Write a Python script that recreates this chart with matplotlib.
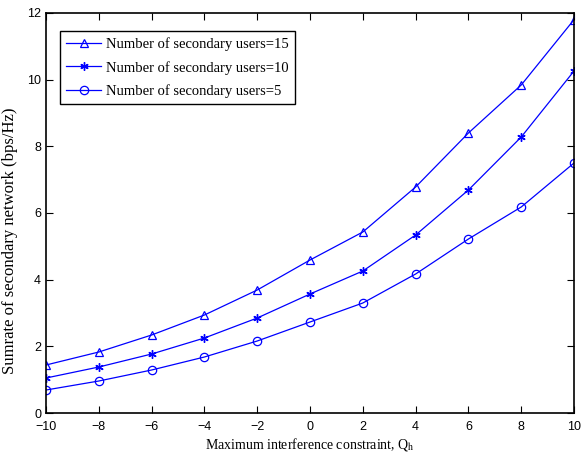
import matplotlib
matplotlib.use("Agg")
import matplotlib.pyplot as plt

# interference constraint values
q = [-10, -8, -6, -4, -2, 0, 2, 4, 6, 8, 10]

# sumrate for each number of secondary users
users15 = [1.44, 1.83, 2.34, 2.94, 3.69, 4.59, 5.43, 6.78, 8.40, 9.84, 11.80]
users10 = [1.05, 1.38, 1.77, 2.25, 2.85, 3.57, 4.26, 5.34, 6.69, 8.28, 10.26]
users5 = [0.69, 0.96, 1.29, 1.68, 2.16, 2.73, 3.30, 4.17, 5.22, 6.18, 7.50]

xticks = [-10, -8, -6, -4, -2, 0, 2, 4, 6, 8, 10]
yticks = [0, 2, 4, 6, 8, 10, 12]

plt.rcParams['mathtext.fontset'] = 'stix'

fig = plt.figure(figsize=(5.81, 4.59), dpi=100)
ax = fig.add_axes([0.0792, 0.1002, 0.9088, 0.8715])

blue = '#0000ff'
ax.plot(q, users15, color=blue, lw=0.9, marker='^', ms=6, mfc='none', mew=0.9,
        label='Number of secondary users=15')
ax.plot(q, users10, color=blue, lw=0.9, marker=(6, 2, 0), ms=6, mew=1.0,
        label='Number of secondary users=10')
ax.plot(q, users5, color=blue, lw=0.9, marker='o', ms=6, mfc='none', mew=0.9,
        label='Number of secondary users=5')

ax.set_xlim(-10, 10)
ax.set_ylim(0, 12)
ax.set_xticks(xticks)
ax.set_yticks(yticks)
ax.set_xticklabels([str(v).replace('-', '\u2212') for v in xticks],
                   family='Liberation Sans', fontsize=9)
ax.set_yticklabels([str(v) for v in yticks], family='Liberation Sans', fontsize=9)
ax.tick_params(axis='x', pad=6)
ax.tick_params(direction='in', top=True, right=True, length=5, width=0.8)
for s in ax.spines.values():
    s.set_linewidth(1.2)

ax.set_xlabel(r'Maximum interference constraint, Q$_{\mathrm{h}}$',
              family='Liberation Serif', fontsize=10, labelpad=2)
ax.set_ylabel('Sumrate of secondary network (bps/Hz)',
              family='Liberation Serif', fontsize=12)
ax.yaxis.set_label_coords(-0.053, 0.43)

leg = ax.legend(loc='upper left', bbox_to_anchor=(0.026, 0.955),
                prop={'family': 'Liberation Serif', 'size': 10.5},
                fancybox=False, framealpha=1, edgecolor='black',
                handlelength=2.4, handletextpad=0.3, borderpad=0.45,
                labelspacing=0.65, borderaxespad=0)
leg.get_frame().set_linewidth(1.0)

fig.savefig('out.png', dpi=100)
